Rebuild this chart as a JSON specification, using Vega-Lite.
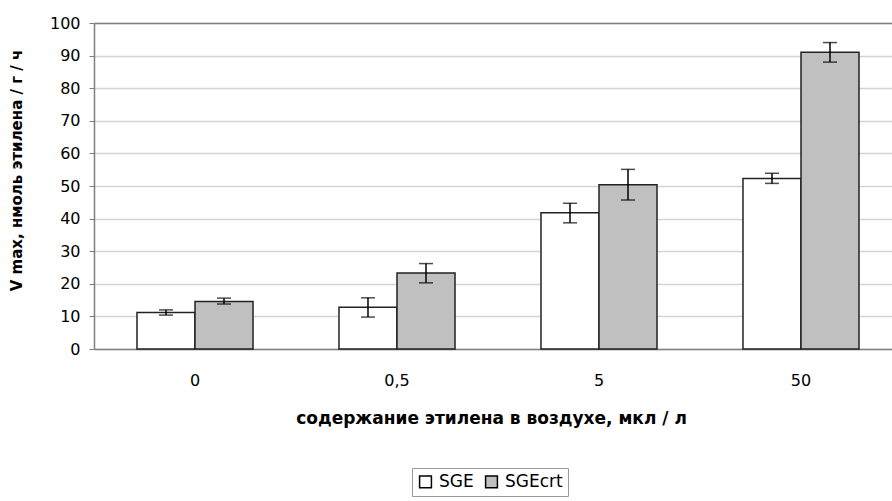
{
  "$schema": "https://vega.github.io/schema/vega-lite/v6.json",
  "autosize": "none",
  "width": 798,
  "height": 326,
  "padding": {"left": 94, "top": 23, "right": 0, "bottom": 152},
  "background": "white",
  "config": {
    "font": "DejaVu Sans",
    "view": {"stroke": null},
    "axis": {"labelColor": "#000", "titleColor": "#000", "labelFont": "DejaVu Sans", "titleFont": "DejaVu Sans"},
    "axisY": {
      "titleFontSize": 15, "titleFontWeight": "bold",
      "labelOverlap": false,
      "labelFontSize": 16, "labelPadding": 9, "tickSize": 5, "tickColor": "#808080",
      "domainColor": "#808080", "domainWidth": 1.5,
      "gridColor": "#d4d4d4", "gridWidth": 1.5,
      "titleX": -78, "titleY": 147, "titleBaseline": "middle", "titleAlign": "center"
    }
  },
  "resolve": {"axis": {"x": "independent"}},
  "data": {
    "values": [
      {"conc": "0", "series": "SGE", "value": 11.2, "lo": 10.4, "hi": 12.0},
      {"conc": "0", "series": "SGEcrt", "value": 14.6, "lo": 13.8, "hi": 15.6},
      {"conc": "0,5", "series": "SGE", "value": 12.8, "lo": 9.8, "hi": 15.7},
      {"conc": "0,5", "series": "SGEcrt", "value": 23.3, "lo": 20.3, "hi": 26.2},
      {"conc": "5", "series": "SGE", "value": 41.8, "lo": 38.7, "hi": 44.7},
      {"conc": "5", "series": "SGEcrt", "value": 50.4, "lo": 45.7, "hi": 55.1},
      {"conc": "50", "series": "SGE", "value": 52.3, "lo": 50.8, "hi": 53.9},
      {"conc": "50", "series": "SGEcrt", "value": 91.0, "lo": 88.0, "hi": 94.0}
    ]
  },
  "layer": [
    {
      "mark": {"type": "bar", "stroke": "#222", "strokeWidth": 1.5},
      "encoding": {
        "x": {
          "field": "conc", "type": "nominal", "sort": ["0", "0,5", "5", "50"],
          "scale": {"range": [0, 808], "paddingInner": 0, "paddingOuter": 0},
          "axis": {
            "title": "содержание этилена в воздухе, мкл / л",
            "titleFontSize": 17, "titleFontWeight": "bold",
            "titleBaseline": "alphabetic", "titleY": 74, "titleX": 397,
            "labelAngle": 0, "labelFontSize": 16, "labelBaseline": "top", "labelPadding": 23,
            "ticks": false, "domainColor": "#808080", "domainWidth": 1.5, "grid": false
          }
        },
        "xOffset": {"field": "series", "type": "nominal", "scale": {"paddingInner": 0, "paddingOuter": 0.741}},
        "y": {
          "field": "value", "type": "quantitative",
          "scale": {"domain": [0, 100], "nice": false},
          "axis": {"title": "V max, нмоль этилена / г / ч", "values": [0, 10, 20, 30, 40, 50, 60, 70, 80, 90, 100], "tickCount": 20}
        },
        "fill": {
          "field": "series", "type": "nominal",
          "scale": {"domain": ["SGE", "SGEcrt"], "range": ["#ffffff", "#c0c0c0"]},
          "legend": {
            "title": null, "orient": "none", "legendX": 318, "legendY": 445,
            "direction": "horizontal", "strokeColor": "#999", "padding": 5,
            "symbolType": "square", "symbolSize": 140, "symbolStrokeColor": "#000", "symbolStrokeWidth": 1.5,
            "labelFontSize": 17, "labelColor": "#000", "labelOffset": 5, "columnPadding": 8
          }
        }
      }
    },
    {
      "mark": {"type": "rule", "color": "#000", "strokeWidth": 1.5},
      "encoding": {
        "x": {"field": "conc", "type": "nominal", "sort": ["0", "0,5", "5", "50"],
          "axis": {"orient": "top", "title": null, "labels": false, "ticks": false, "grid": false, "domainColor": "#808080", "domainWidth": 1.5}},
        "xOffset": {"field": "series", "type": "nominal"},
        "y": {"field": "lo", "type": "quantitative", "axis": {"title": "V max, нмоль этилена / г / ч", "values": [0, 10, 20, 30, 40, 50, 60, 70, 80, 90, 100], "tickCount": 20}},
        "y2": {"field": "hi"}
      }
    },
    {
      "mark": {"type": "tick", "color": "#000", "thickness": 1.5, "size": 14},
      "encoding": {
        "x": {"field": "conc", "type": "nominal", "sort": ["0", "0,5", "5", "50"], "axis": null},
        "xOffset": {"field": "series", "type": "nominal"},
        "y": {"field": "lo", "type": "quantitative", "axis": {"title": "V max, нмоль этилена / г / ч", "values": [0, 10, 20, 30, 40, 50, 60, 70, 80, 90, 100], "tickCount": 20}}
      }
    },
    {
      "mark": {"type": "tick", "color": "#000", "thickness": 1.5, "size": 14},
      "encoding": {
        "x": {"field": "conc", "type": "nominal", "sort": ["0", "0,5", "5", "50"], "axis": null},
        "xOffset": {"field": "series", "type": "nominal"},
        "y": {"field": "hi", "type": "quantitative", "axis": {"title": "V max, нмоль этилена / г / ч", "values": [0, 10, 20, 30, 40, 50, 60, 70, 80, 90, 100], "tickCount": 20}}
      }
    }
  ]
}
